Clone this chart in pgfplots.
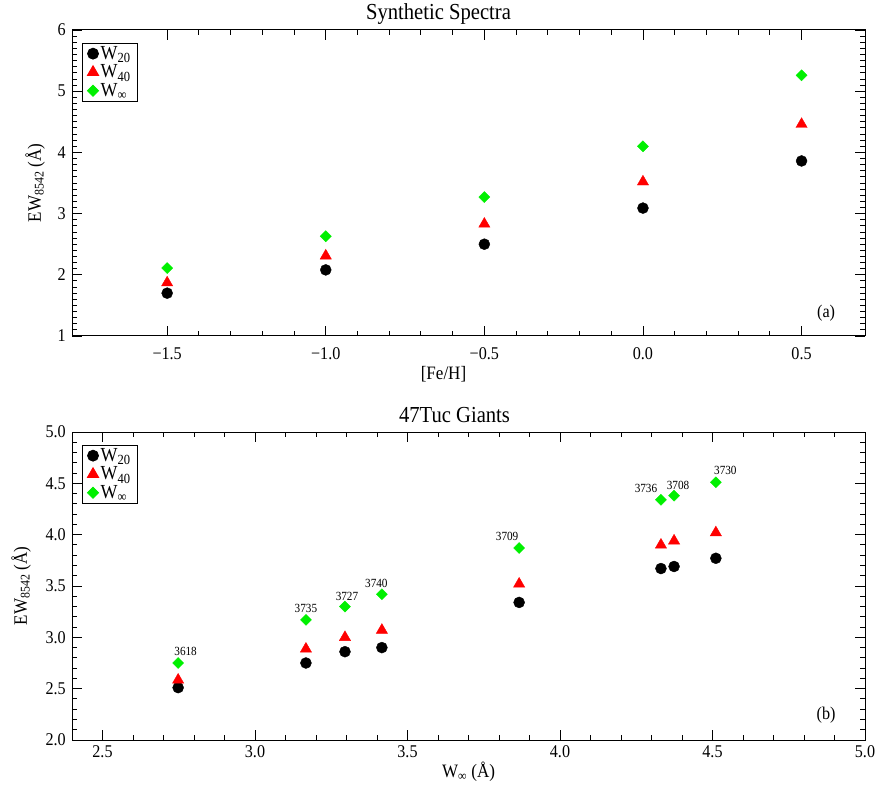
\documentclass[border=0pt]{standalone}
\usepackage{fontspec}
\setmainfont{Liberation Serif}[FakeStretch=0.9]
\usepackage{pgfplots}
\pgfplotsset{compat=1.18}
\definecolor{mygreen}{RGB}{0,240,0}
\pgfplotsset{
  idl/.style={
    scale only axis, width=793bp,
    tick pos=both, tick align=inside,
    major tick length=10bp, minor tick length=5bp,
    every tick/.style={black, line width=0.9bp},
    axis line style={line width=1bp},
    /pgf/number format/assume math mode=true,
    ticklabel style={font=\fontsize{18}{18}\selectfont},
    xticklabel style={inner sep=0pt, anchor=north},
    yticklabel style={inner sep=0pt, anchor=east, xshift=-6bp},
    every axis title/.style={at={(0.5,1)}, anchor=base, yshift=10bp, font=\fontsize{23}{23}\selectfont},
    label style={font=\fontsize{19}{19}\selectfont, inner sep=0pt},
    legend style={at={(0,1)}, anchor=north west, xshift=10bp, yshift=-13bp,
      font=\fontsize{20}{20}\selectfont, draw=black, line width=0.8bp,
      inner xsep=5bp, inner ysep=1bp, row sep=0bp, cells={anchor=west}},
    legend cell align=left,
  },
  m20/.style={only marks, mark=*, mark size=5.5bp, black},
  m40/.style={only marks, mark=triangle*, mark size=6.5bp, red, mark options={draw=red, fill=red}},
  minf/.style={only marks, mark=square*, mark size=3.9bp, mygreen, mark options={rotate=45, draw=mygreen, fill=mygreen}},
}
\begin{document}
\begin{tikzpicture}
\path[use as bounding box] (0,0) rectangle (877bp,795bp);
% ---------- top panel ----------
\begin{axis}[idl,
  at={(72bp,459bp)}, anchor=south west, height=306bp,
  xmin=-1.8, xmax=0.7, ymin=1, ymax=6,
  xtick={-1.5,-1,-0.5,0,0.5},
  xticklabels={−1.5,−1.0,−0.5,0.0,0.5},
  ytick={1,2,3,4,5,6},
  minor x tick num=4, minor y tick num=9,
  xticklabel style={yshift=-11bp},
  title={Synthetic Spectra},
  title style={xshift=-30bp},
  xlabel={[Fe/H]},
  xlabel style={at={(axis description cs:0.5,0)}, anchor=north, yshift=-30bp, xshift=-25bp},
  ylabel={EW\textsubscript{8542} (Å)},
  ylabel style={at={([xshift=-27bp]axis description cs:0,0.5)}, anchor=south},
]
\addplot[m20] coordinates {(-1.5,1.70) (-1.0,2.08) (-0.5,2.50) (0,3.09) (0.5,3.86)};
\addlegendentry{W\textsubscript{20}}
\addplot[m40] coordinates {(-1.5,1.87) (-1.0,2.31) (-0.5,2.83) (0,3.52) (0.5,4.46)};
\addlegendentry{W\textsubscript{40}}
\addplot[minf] coordinates {(-1.5,2.11) (-1.0,2.63) (-0.5,3.27) (0,4.10) (0.5,5.26)};
\addlegendentry{W\textsubscript{∞}}
\node[font=\fontsize{18}{18}\selectfont] at (axis description cs:0.951,0.075) {(a)};
\end{axis}
% ---------- bottom panel ----------
\begin{axis}[idl,
  at={(72bp,55bp)}, anchor=south west, height=308bp,
  xmin=2.4, xmax=5.0, ymin=2, ymax=5,
  xtick={2.5,3,3.5,4,4.5,5},
  ytick={2,2.5,3,3.5,4,4.5,5},
  minor x tick num=4, minor y tick num=4,
  xticklabel style={yshift=-5bp, /pgf/number format/.cd, fixed, fixed zerofill, precision=1},
  yticklabel style={/pgf/number format/.cd, fixed, fixed zerofill, precision=1},
  title={47Tuc Giants},
  title style={xshift=-14bp},
  xlabel={W\textsubscript{∞} (Å)},
  xlabel style={at={(axis description cs:0.5,0)}, anchor=north, yshift=-22bp},
  ylabel={EW\textsubscript{8542} (Å)},
  ylabel style={at={([xshift=-41bp]axis description cs:0,0.5)}, anchor=south},
]
\addplot[m20] coordinates {(2.748,2.51) (3.167,2.75) (3.295,2.86) (3.416,2.90) (3.866,3.34) (4.331,3.67) (4.374,3.69) (4.511,3.77)};
\addlegendentry{W\textsubscript{20}}
\addplot[m40] coordinates {(2.748,2.585) (3.167,2.887) (3.295,3.00) (3.416,3.07) (3.866,3.52) (4.331,3.90) (4.374,3.94) (4.511,4.02)};
\addlegendentry{W\textsubscript{40}}
\addplot[minf] coordinates {(2.748,2.75) (3.167,3.17) (3.295,3.30) (3.416,3.42) (3.866,3.87) (4.331,4.34) (4.374,4.38) (4.511,4.51)};
\addlegendentry{W\textsubscript{∞}}
\begin{scope}[every node/.style={font=\fontsize{12.5}{12.5}\selectfont, inner sep=0pt}]
\node at (axis cs:2.748,2.75) [xshift=7.5bp, yshift=11.5bp] {3618};
\node at (axis cs:3.167,3.17) [yshift=11bp] {3735};
\node at (axis cs:3.295,3.30) [xshift=2bp, yshift=10.5bp] {3727};
\node at (axis cs:3.416,3.42) [xshift=-5.5bp, yshift=10.5bp] {3740};
\node at (axis cs:3.866,3.87) [xshift=-12bp, yshift=11.5bp] {3709};
\node at (axis cs:4.331,4.34) [xshift=-15bp, yshift=11bp] {3736};
\node at (axis cs:4.374,4.38) [xshift=4bp, yshift=10.5bp] {3708};
\node at (axis cs:4.511,4.51) [xshift=9.5bp, yshift=11.5bp] {3730};
\end{scope}
\node[font=\fontsize{18}{18}\selectfont] at (axis description cs:0.951,0.081) {(b)};
\end{axis}
\end{tikzpicture}
\end{document}
